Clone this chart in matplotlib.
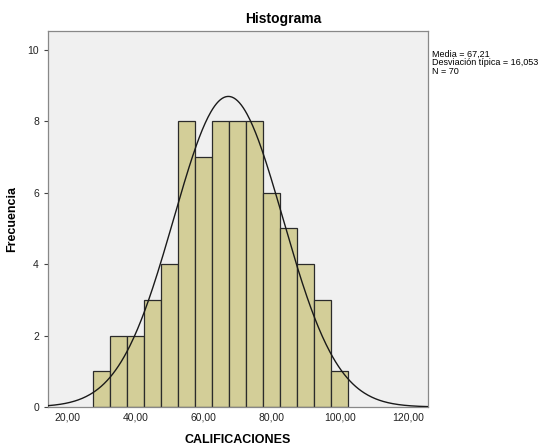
import numpy as np
import matplotlib.pyplot as plt

plt.rcParams['font.family'] = ['Liberation Sans', 'DejaVu Sans']

# Data
bin_edges = [27.5, 32.5, 37.5, 42.5, 47.5, 52.5, 57.5, 62.5, 67.5, 72.5,
             77.5, 82.5, 87.5, 92.5, 97.5, 102.5]
counts = [1, 2, 2, 3, 4, 8, 7, 8, 8, 8, 6, 5, 4, 3, 1]
media = 67.21
desv = 16.053
n = 70
bin_width = 5

fig = plt.figure(figsize=(5.53, 4.46), dpi=100)
fig.patch.set_facecolor('white')
ax = fig.add_axes([48 / 553, 1 - 407 / 446, 380 / 553, 376 / 446])
ax.set_facecolor('#f0f0f0')

ax.bar(bin_edges[:-1], counts, width=bin_width, align='edge',
       color='#d3ce98', edgecolor='#2b2b2b', linewidth=0.9, zorder=2)

# normal curve
xs = np.linspace(14.2, 125.9, 400)
ys = n * bin_width * np.exp(-0.5 * ((xs - media) / desv) ** 2) / (desv * np.sqrt(2 * np.pi))
ax.plot(xs, ys, color='#1a1a1a', linewidth=1.0, zorder=3)

ax.set_xlim(14.2, 125.9)
ax.set_ylim(0, 10.53)
ax.set_xticks([20, 40, 60, 80, 100, 120])
ax.set_xticklabels(['20,00', '40,00', '60,00', '80,00', '100,00', '120,00'])
ax.set_yticks([0, 2, 4, 6, 8, 10])
ax.tick_params(axis='both', labelsize=7.5, length=3, color='#444444', labelcolor='#222222')
ax.tick_params(axis='x', length=0, pad=4)
for s in ax.spines.values():
    s.set_color('#888888')
    s.set_linewidth(0.9)

ax.set_ylabel('Frecuencia', fontsize=9, fontweight='bold')
ax.yaxis.set_label_coords(-30 / 380, 0.5)
ax.set_xlabel('CALIFICACIONES', fontsize=9, fontweight='bold', labelpad=8)
fig.text(283 / 553, 1 - 19 / 446, 'Histograma', ha='center', va='center',
         fontsize=10, fontweight='bold')

fig.text(432 / 553, 1 - 50 / 446,
         'Media = 67,21\nDesviación típica = 16,053\nN = 70',
         ha='left', va='top', fontsize=6.5, linespacing=0.9)

fig.savefig('out.png', dpi=100)
